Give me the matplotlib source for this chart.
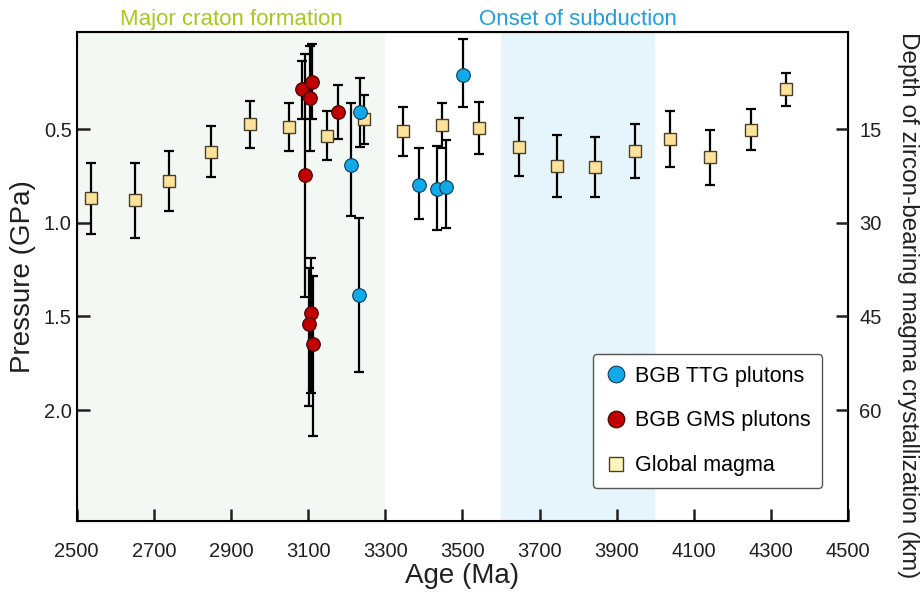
import matplotlib
matplotlib.use('Agg')
import matplotlib.pyplot as plt
from matplotlib.lines import Line2D

plt.rcParams['font.family'] = ['Liberation Sans', 'DejaVu Sans']

# Global magma (square markers)
global_age = [2537, 2651, 2738, 2847, 2948, 3050, 3150, 3245, 3346, 3446,
              3542, 3647, 3744, 3843, 3948, 4038, 4142, 4248, 4339]
global_p = [0.87, 0.88, 0.775, 0.62, 0.475, 0.489, 0.535, 0.448, 0.511, 0.48,
            0.493, 0.594, 0.697, 0.701, 0.617, 0.552, 0.651, 0.502, 0.288]
global_err = [0.19, 0.2, 0.16, 0.135, 0.125, 0.13, 0.13, 0.13, 0.13, 0.12,
              0.14, 0.155, 0.165, 0.16, 0.145, 0.15, 0.145, 0.112, 0.09]

# BGB TTG plutons (blue circles)
ttg_age = [3234, 3212, 3231, 3387, 3435, 3457, 3502]
ttg_p = [0.411, 0.694, 1.384, 0.80, 0.82, 0.81, 0.21]
ttg_err_lo = [0.186, 0.336, 0.41, 0.20, 0.23, 0.25, 0.19]
ttg_err_hi = [0.186, 0.27, 0.41, 0.18, 0.22, 0.22, 0.17]

# BGB GMS plutons (red circles)
gms_age = [3083, 3110, 3104, 3093, 3178, 3107, 3101, 3112]
gms_p = [0.288, 0.247, 0.336, 0.747, 0.409, 1.48, 1.54, 1.646]
gms_err_lo = [0.15, 0.2, 0.28, 0.65, 0.145, 0.29, 0.30, 0.36]
gms_err_hi = [0.16, 0.2, 0.28, 0.65, 0.145, 0.43, 0.44, 0.49]

fig = plt.figure(figsize=(9.21, 5.94), dpi=100)
ax = fig.add_axes([0.0833, 0.1234, 0.8377, 0.8232])

ax.axvspan(2500, 3300, color='#f3f8f5', zorder=0, lw=0)
ax.axvspan(3600, 4000, color='#e6f4fb', zorder=0, lw=0)

ebar = dict(fmt='none', ecolor='black', elinewidth=1.6, capsize=3.5, capthick=1.6, zorder=2)
ax.errorbar(global_age, global_p, yerr=global_err, **ebar)
ax.errorbar(gms_age, gms_p, yerr=[gms_err_lo, gms_err_hi], **ebar)
ax.errorbar(ttg_age, ttg_p, yerr=[ttg_err_lo, ttg_err_hi], **ebar)

ax.plot(global_age, global_p, 's', ms=8.6, mfc='#fde39a', mec='#4a3f2a', mew=1.0, zorder=3)
ax.plot(gms_age, gms_p, 'o', ms=9.8, mfc='#c00000', mec='#3a0000', mew=0.8, zorder=4)
ax.plot(ttg_age, ttg_p, 'o', ms=9.8, mfc='#12a9e9', mec='#0a3a55', mew=0.8, zorder=4)

ax.set_xlim(2500, 4500)
ax.set_ylim(2.59, -0.02)
ax.set_xticks(range(2500, 4501, 200))
ax.set_yticks([0.5, 1.0, 1.5, 2.0])
ax.set_yticklabels(['0.5', '1.0', '1.5', '2.0'])
ax.tick_params(direction='in', length=9, width=1.8, labelsize=14.5, colors='#231f20')
ax.tick_params(axis='x', pad=15)
for s in ax.spines.values():
    s.set_linewidth(1.5)

ax.set_xlabel('Age (Ma)', fontsize=20, labelpad=2, color='#231f20')
ax.set_ylabel('Pressure (GPa)', fontsize=20, labelpad=6, color='#231f20')

ax2 = ax.twinx()
ax2.set_ylim(2.59 * 30, -0.02 * 30)
ax2.set_yticks([15, 30, 45, 60])
ax2.tick_params(direction='in', length=9, width=1.8, labelsize=14.5, pad=8, colors='#231f20')
ax2.set_ylabel('Depth of zircon-bearing magma crystallization (km)', fontsize=17.5,
               rotation=270, va='center', color='#231f20')
ax2.yaxis.set_label_coords(1.077, 0.44)

ax.text(2900, -0.03, 'Major craton formation', color='#a8c81e', fontsize=16,
        ha='center', va='bottom')
ax.text(3800, -0.03, 'Onset of subduction', color='#1f9fe0', fontsize=16,
        ha='center', va='bottom')

handles = [
    Line2D([], [], ls='none', marker='o', ms=12, mfc='#12a9e9', mec='#0a3a55', mew=0.8),
    Line2D([], [], ls='none', marker='o', ms=12, mfc='#c00000', mec='#3a0000', mew=0.8),
    Line2D([], [], ls='none', marker='s', ms=9.5, mfc='#fff5b8', mec='#4a3f2a', mew=1.0),
]
labels = ['BGB TTG plutons', 'BGB GMS plutons', 'Global magma']
leg = ax.legend(handles, labels, loc='lower right', bbox_to_anchor=(0.966, 0.067),
                fontsize=15.5, labelspacing=1.1, handletextpad=0.3, handlelength=1.1,
                borderpad=0.55, borderaxespad=0, fancybox=True, framealpha=1,
                edgecolor='#555555')
leg.get_frame().set_linewidth(1.0)
leg.set_zorder(10)

fig.savefig('out.png', dpi=100)
